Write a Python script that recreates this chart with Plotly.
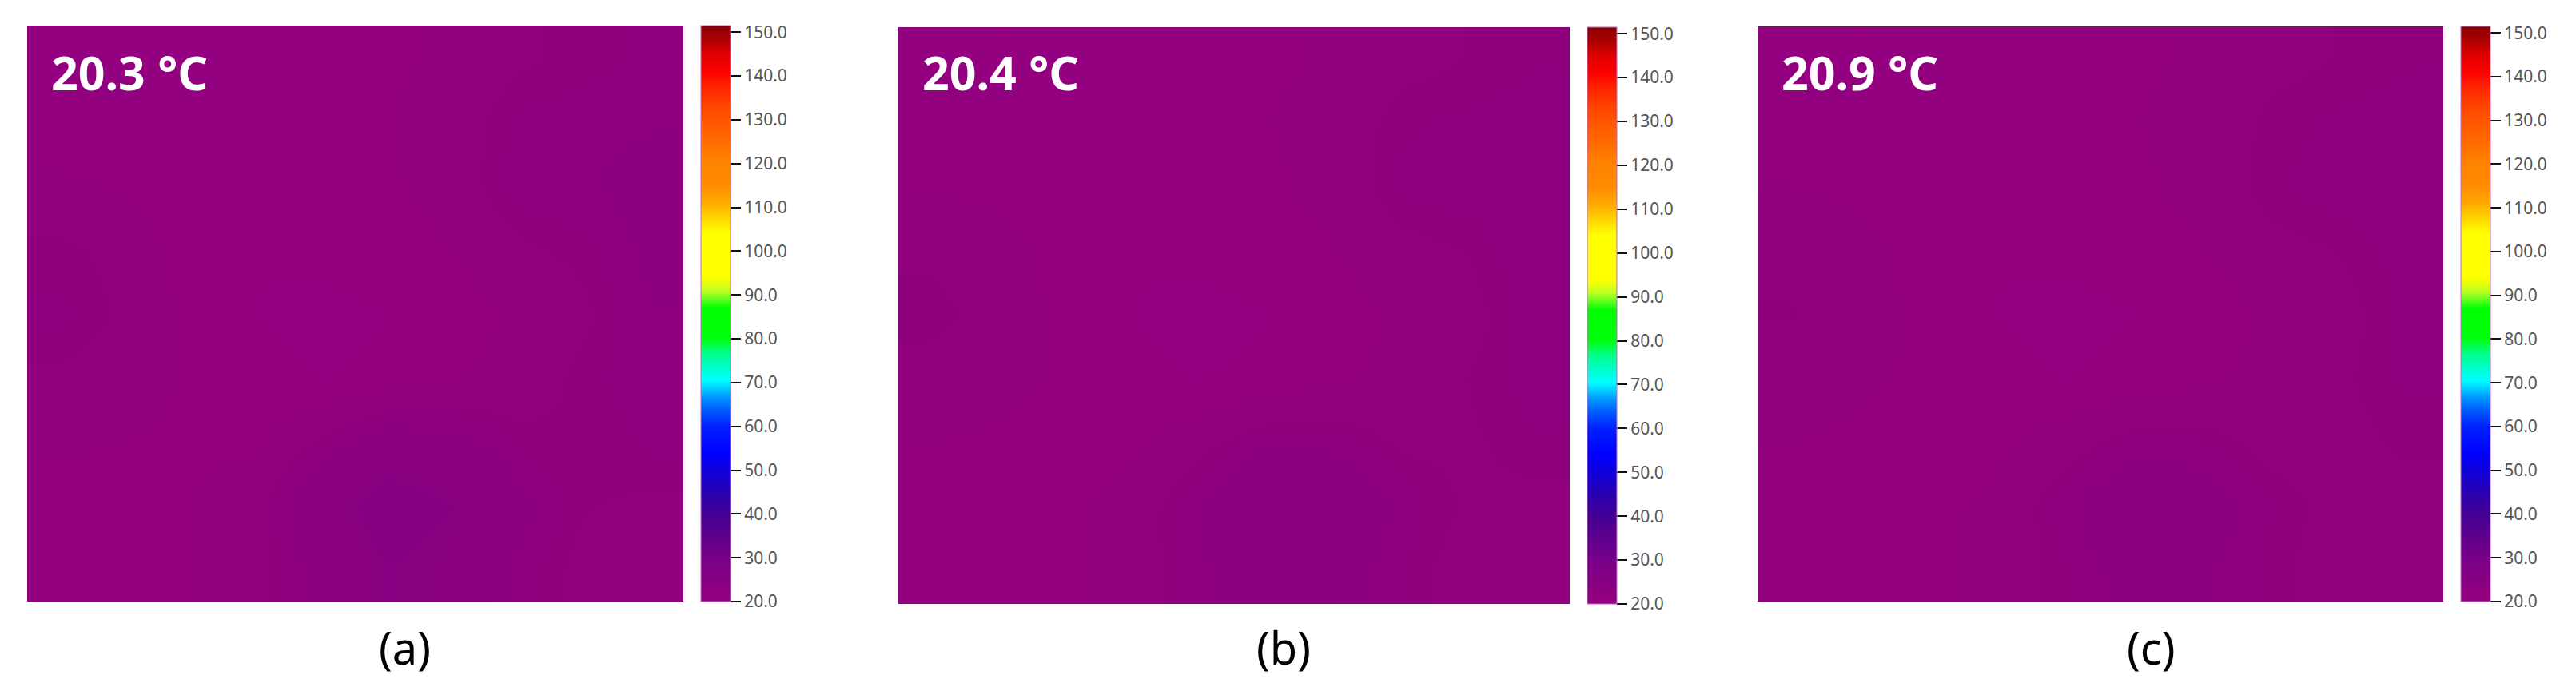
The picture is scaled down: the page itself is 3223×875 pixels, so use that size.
import plotly.graph_objects as go

# temperature grids (rows top -> bottom), deg C
temp_a = [
    [21.4, 21.3, 21.4, 21.5, 21.6, 21.8, 22.0, 22.4, 22.6, 22.8],
    [21.6, 21.5, 21.4, 21.5, 21.7, 21.9, 22.2, 22.8, 22.9, 23.0],
    [22.0, 21.8, 21.5, 21.4, 21.6, 21.8, 22.2, 22.9, 23.0, 23.2],
    [22.6, 22.3, 21.6, 21.3, 21.4, 21.6, 21.9, 22.4, 22.6, 23.2],
    [22.8, 22.4, 21.7, 21.3, 21.2, 21.3, 21.6, 22.0, 22.4, 23.0],
    [22.4, 22.2, 21.8, 21.4, 21.3, 21.4, 21.8, 22.2, 22.6, 23.0],
    [22.0, 21.9, 21.8, 21.8, 22.6, 23.6, 23.3, 22.6, 22.5, 22.8],
    [21.6, 21.7, 21.9, 22.3, 23.8, 25.4, 24.6, 23.2, 22.5, 22.4],
    [21.5, 21.6, 21.9, 22.3, 23.4, 24.6, 24.0, 22.9, 22.3, 22.2],
]
temp_b = [
    [21.4, 21.3, 21.4, 21.5, 21.6, 21.8, 22.0, 22.3, 22.5, 22.7],
    [21.6, 21.5, 21.4, 21.5, 21.7, 21.9, 22.1, 22.7, 22.8, 22.9],
    [21.9, 21.7, 21.5, 21.4, 21.6, 21.8, 22.1, 22.8, 22.9, 23.0],
    [22.4, 22.2, 21.6, 21.3, 21.4, 21.6, 21.9, 22.3, 22.5, 23.0],
    [22.6, 22.3, 21.7, 21.3, 21.2, 21.3, 21.6, 22.0, 22.3, 22.9],
    [22.3, 22.1, 21.8, 21.4, 21.3, 21.4, 21.8, 22.1, 22.5, 22.9],
    [21.9, 21.8, 21.7, 21.8, 22.3, 23.0, 22.9, 22.4, 22.4, 22.7],
    [21.6, 21.7, 21.8, 22.1, 23.1, 24.2, 23.8, 22.9, 22.4, 22.3],
    [21.5, 21.6, 21.8, 22.2, 22.9, 23.6, 23.3, 22.7, 22.2, 22.1],
]
temp_c = [
    [21.4, 21.3, 21.4, 21.5, 21.6, 21.8, 22.0, 22.3, 22.5, 22.7],
    [21.6, 21.5, 21.4, 21.5, 21.7, 21.9, 22.1, 22.6, 22.8, 22.9],
    [21.9, 21.7, 21.5, 21.4, 21.6, 21.8, 22.1, 22.7, 22.9, 23.0],
    [22.4, 22.1, 21.6, 21.3, 21.4, 21.6, 21.9, 22.3, 22.5, 22.9],
    [22.5, 22.2, 21.7, 21.3, 21.2, 21.3, 21.6, 22.0, 22.3, 22.8],
    [22.2, 22.0, 21.8, 21.4, 21.3, 21.4, 21.8, 22.1, 22.4, 22.8],
    [21.9, 21.8, 21.7, 21.8, 22.2, 22.8, 22.7, 22.3, 22.3, 22.6],
    [21.6, 21.7, 21.8, 22.0, 22.9, 23.8, 23.4, 22.7, 22.3, 22.2],
    [21.5, 21.6, 21.8, 22.1, 22.7, 23.3, 23.1, 22.6, 22.2, 22.1],
]
max_temps = ["20.3", "20.4", "20.9"]
panel_labels = ["(a)", "(b)", "(c)"]
t_min, t_max = 20.0, 151.5

# palette of the camera software
palette = [
    (20, "#97008a"), (21.5, "#93007f"), (24, "#8a0080"), (27, "#820086"),
    (30, "#780088"), (35, "#5e008e"), (40, "#440095"), (45, "#2800b0"),
    (50, "#1000dd"), (54, "#0000ff"), (60, "#0020ff"), (64, "#0060ff"),
    (67, "#00a0ff"), (70.5, "#00ffff"), (74, "#00ffc0"), (77, "#00ff80"),
    (80, "#00ff10"), (87, "#00ff00"), (89, "#60ff20"), (91, "#c0ff20"),
    (94, "#ffff00"), (104, "#ffff00"), (107, "#ffdd00"), (111, "#ffaa00"),
    (115, "#ff8c00"), (121, "#ff8000"), (126, "#ff6600"), (130, "#ff5500"),
    (134, "#ff4000"), (138, "#ff2000"), (141, "#ff0000"), (145, "#e00000"),
    (148, "#b00000"), (151.5, "#8b0000"),
]
colorscale = [[(v - t_min) / (t_max - t_min), c] for v, c in palette]

W, H = 3223, 875
# pixel boxes: (left, right, top, bottom) of image, colorbar left
boxes = [(34, 855, 32, 753, 877), (1124, 1964, 34, 756, 1986), (2199, 3057, 33, 753, 3079)]
label_x = [506, 1606, 2691]

fig = go.Figure()
for i, (z, (l, r, t, b, cb)) in enumerate(zip([temp_a, temp_b, temp_c], boxes)):
    n = i + 1
    fig.add_trace(go.Heatmap(
        z=z, zmin=t_min, zmax=t_max, colorscale=colorscale, zsmooth="best",
        xaxis=f"x{n}", yaxis=f"y{n}", hoverinfo="skip",
        colorbar=dict(
            x=cb / W, xanchor="left", xpad=0, thickness=37,
            y=1 - b / H, yanchor="bottom", len=(b - t) / H, ypad=0,
            outlinewidth=1, outlinecolor="#c46bc4",
            tick0=20, dtick=10, tickformat=".1f",
            ticks="outside", ticklen=13, tickwidth=2, tickcolor="#111",
            tickfont=dict(family="Noto Sans", size=21, color="#555"),
        ),
    ))
    ax = dict(showticklabels=False, ticks="", showgrid=False, zeroline=False, showline=False)
    fig.update_layout({
        f"xaxis{n}": dict(ax, domain=[l / W, r / W], range=[-0.5, 9.5]),
        f"yaxis{n}": dict(ax, domain=[1 - b / H, 1 - t / H], range=[8.5, -0.5]),
    })
    fig.add_annotation(
        text=f"<b>{max_temps[i]} °C</b>", xref="paper", yref="paper",
        x=(l + 28) / W, xanchor="left", y=1 - 90 / H, yanchor="middle",
        showarrow=False, font=dict(family="Noto Sans", size=59, color="white"),
    )
    fig.add_annotation(
        text=panel_labels[i], xref="paper", yref="paper",
        x=label_x[i] / W, xanchor="center", y=1 - 810 / H, yanchor="middle",
        showarrow=False, font=dict(family="Noto Sans", size=56, color="black"),
    )

fig.update_layout(
    width=W, height=H, margin=dict(l=0, r=0, t=0, b=0),
    paper_bgcolor="white", plot_bgcolor="white", showlegend=False,
)
# drop the browser's default page margin so the figure sits at the window origin
fig.write_html("out.html", config={"displayModeBar": False},
               post_script="document.body.style.margin='0';")
